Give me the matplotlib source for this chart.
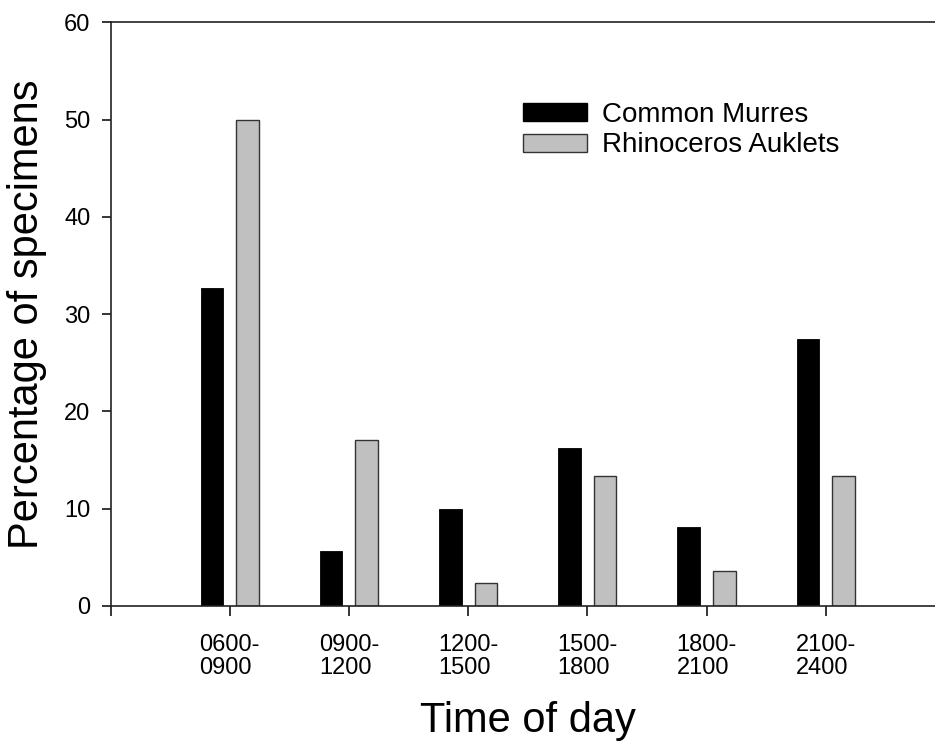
import numpy as np
import matplotlib
matplotlib.use("Agg")
from matplotlib import pyplot as plt
from matplotlib.patches import Patch

plt.rcParams['font.family'] = ['Liberation Sans', 'DejaVu Sans']

periods = ['0600-\n0900', '0900-\n1200', '1200-\n1500', '1500-\n1800', '1800-\n2100', '2100-\n2400']
murres = [32.7, 5.7, 10.0, 16.2, 8.1, 27.4]
auklets = [50.0, 17.1, 2.4, 13.4, 3.6, 13.4]

fig = plt.figure(figsize=(9.35, 7.47), dpi=100)
ax = fig.add_axes([110.5 / 935, 141 / 747, 834.4 / 935, 583.8 / 747])

x = np.arange(1, len(periods) + 1)
w = 0.19
off = 0.149
ax.bar(x - off, murres, w, color='black', edgecolor='black', linewidth=0.6)
ax.bar(x + off, auklets, w, color='#c0c0c0', edgecolor='#333333', linewidth=1.0)

ax.set_xlim(0, 7)
ax.set_ylim(0, 60)
ax.set_xticks(np.arange(0, 7))
ax.set_xticklabels([''] + periods, fontsize=17, linespacing=1.05, multialignment='left')
ax.set_yticks(np.arange(0, 61, 10))
ax.tick_params(axis='y', labelsize=17, length=6.5, width=1.1, direction='out', pad=8)
ax.tick_params(axis='x', length=7, width=1.1, direction='out', pad=13)

for s in ['left', 'top', 'bottom']:
    ax.spines[s].set_linewidth(1.2)
    ax.spines[s].set_color('#222222')
ax.spines['right'].set_visible(False)

ax.set_xlabel('Time of day', fontsize=30, labelpad=16)
ax.set_ylabel('Percentage of specimens', fontsize=30, labelpad=12)

handles = [Patch(facecolor='black', edgecolor='black', label='Common Murres'),
           Patch(facecolor='#c0c0c0', edgecolor='#333333', label='Rhinoceros Auklets')]
ax.legend(handles=handles, loc='upper left', bbox_to_anchor=(0.494, 0.863), frameon=False,
          fontsize=20, handlelength=2.3, handleheight=0.62, handletextpad=0.55,
          labelspacing=0.15, borderpad=0, borderaxespad=0)

fig.savefig('out.png', dpi=100)
